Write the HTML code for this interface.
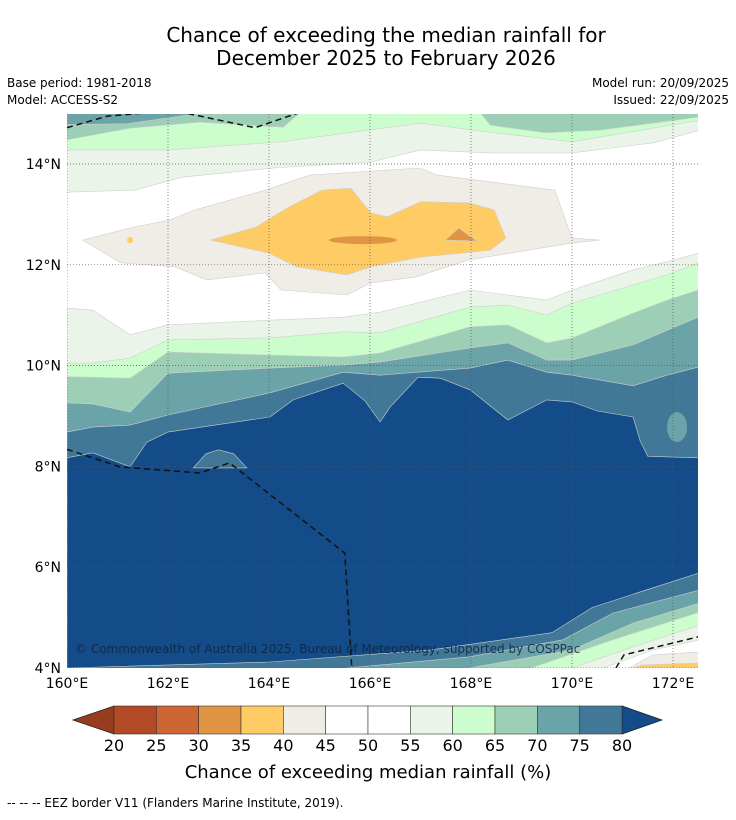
<!DOCTYPE html>
<html><head><meta charset="utf-8"><style>
html,body{margin:0;padding:0;background:#fff;}
body{width:736px;height:816px;overflow:hidden;font-family:"DejaVu Sans","Liberation Sans",sans-serif;}
</style></head><body>
<svg id="s" width="736" height="816" viewBox="0 0 736 816" xmlns="http://www.w3.org/2000/svg" font-family="DejaVu Sans, Liberation Sans, sans-serif">
<text x="386" y="42" text-anchor="middle" font-size="20">Chance of exceeding the median rainfall for</text>
<text x="386" y="65" text-anchor="middle" font-size="20">December 2025 to February 2026</text>
<text x="7" y="87" font-size="12">Base period: 1981-2018</text>
<text x="7" y="104" font-size="12">Model: ACCESS-S2</text>
<text x="729" y="87" font-size="12" text-anchor="end">Model run: 20/09/2025</text>
<text x="729" y="104" font-size="12" text-anchor="end">Issued: 22/09/2025</text>
<defs><clipPath id="mc"><rect x="67" y="114" width="631" height="554"/></clipPath></defs>
<g id="map" clip-path="url(#mc)"></g>
<g id="axes"></g>
<g id="cbar"></g>
<text x="368" y="778" text-anchor="middle" font-size="18">Chance of exceeding median rainfall (%)</text>
<text x="7" y="807" font-size="12">--  --  -- EEZ border V11 (Flanders Marine Institute, 2019).</text>
</svg>
<script>
const lonTicks=[160,162,164,166,168,170,172];
const latTicks=[4,6,8,10,12,14];
const cbLevels=[20,25,30,35,40,45,50,55,60,65,70,75,80];
const cbColors=["#b34a26","#cc6633","#e09545","#fecb65","#f0ece6","#ffffff","#ffffff","#eaf4e8","#ccfdcc","#9dcfb7","#6aa3a8","#417898"];
const sLons=[160,160.51,161.25,162,164.02,165.47,166.2,167.98,168.73,169.5,170,171.21,171.88,172.5];
const sEaf=[11.14,11.10,10.61,10.81,10.90,10.96,11.06,11.5,11.4,11.3,11.5,11.9,12.06,12.23];
const sCcf=[10.05,10.05,10.15,10.51,10.55,10.67,10.65,11.16,11.2,11.0,11.24,11.6,11.8,12.04];
const s9dc=[9.78,9.77,9.75,10.27,10.21,10.17,10.25,10.77,10.81,10.45,10.55,11.04,11.3,11.5];
const s6aa=[9.26,9.24,9.08,9.85,9.95,10.01,10.07,10.35,10.45,10.11,10.11,10.41,10.7,10.96];
const s417=[8.68,8.78,8.82,9.02,9.46,9.87,9.81,9.95,10.11,9.87,9.81,9.6,9.81,9.97];
const darkLon=[160,160.51,161.25,161.58,162,164.02,164.48,165.47,165.9,166.2,166.4,166.95,167.39,167.98,168.73,169.5,170,170.5,171.21,171.35,171.5,172.5];
const darkLat=[8.17,8.27,7.99,8.48,8.68,8.98,9.32,9.65,9.3,8.88,9.18,9.77,9.75,9.52,8.92,9.32,9.28,9.1,8.98,8.5,8.2,8.17];
const se417Lon=[160,164.02,167.2,169.6,170.4,171.2,172.5], se417Lat=[4.0,4.12,4.36,4.7,5.2,5.46,5.88];
const se6aaLon=[165.54,167.96,169.82,170.81,172.53], se6aaLat=[4.0,4.22,4.56,5.09,5.55];
const se9dcLon=[167.96,170,171.21,172.53], se9dcLat=[4,4.36,4.89,5.29];
const seCcfLon=[169.19,170.81,172.53], seCcfLat=[4,4.56,5.11];
const seEafLon=[170,171.21,172.53], seEafLat=[4,4.42,4.85];
const seWhtLon=[170.63,171.6,172.53], seWhtLat=[4,4.36,4.56];
const seBgeLon=[171.13,171.6,172.53], seBgeLat=[4,4.26,4.32];
const seOrgLon=[171.21,171.37,172.53], seOrgLat=[4,4.06,4.1];
const nEafLon=[160,161.33,162.3,164.08,166.02,167.0,168.38,170,171.62,172.53], nEafLat=[13.44,13.48,13.74,13.92,14.04,14.28,14.22,14.22,14.42,14.67];
const nCcfLon=[160,162,164.24,167,168.38,170,172.53], nCcfLat=[14.28,14.28,14.44,14.81,14.63,14.44,14.87];
const n9dcLon=[160,164.6,164.28,162.63,161.25,160], n9dcLat=[15,15,14.73,14.83,14.71,14.48];
const n6aaLon=[160,162.6,161.2,160], n6aaLat=[15,15,14.8,14.78];
const n9dcRLon=[168.2,168.38,169.47,170.55,172.5,172.5], n9dcRLat=[15,14.77,14.62,14.67,14.93,15];
const beigeLon=[160.31,161.33,162.04,162.53,163.92,164.81,167.0,167.33,169.66,170,170.55,170,167.96,166.91,166.02,165.54,164.24,163.92,162.77,162.14,161.07];
const beigeLat=[12.49,12.75,12.89,13.09,13.48,13.78,13.92,13.78,13.48,12.53,12.49,12.43,12.1,11.76,11.64,11.4,11.5,11.84,11.7,11.96,12.04];
const orangeLon=[162.85,163.74,164.4,165.05,165.62,166.02,166.34,167.0,167.96,168.46,168.69,168.38,167.0,166.02,165.54,164.55,164.0];
const orangeLat=[12.49,12.75,13.15,13.48,13.52,13.03,12.95,13.25,13.23,13.09,12.53,12.29,12.15,11.96,11.8,11.96,12.23];
const triLon=[167.49,167.76,168.12], triLat=[12.49,12.73,12.47];
const blobLon=[162.5,162.75,163.0,163.3,163.56], blobLat=[7.97,8.25,8.33,8.25,7.97];
const eezLon=[160,161.05,162.63,163.22,165.5,165.64], eezLat=[8.34,7.99,7.87,8.07,6.28,4.0];
const eez2Lon=[170.87,171.03,172.5], eez2Lat=[4.0,4.26,4.62];
const eez3Lon=[160,160.8,161.64], eez3Lat=[14.72,14.95,15.02];
const eez4Lon=[162.4,163.72,164.6], eez4Lat=[15.0,14.72,15.02];

const X=lon=>67+(lon-160)*50.5;
const Y=lat=>164+(14-lat)*50.4;
const NS='http://www.w3.org/2000/svg';
const map=document.getElementById('map'), axes=document.getElementById('axes'), cbar=document.getElementById('cbar');
function mk(tag,attrs,parent){const e=document.createElementNS(NS,tag);for(const k in attrs)e.setAttribute(k,attrs[k]);parent.appendChild(e);return e;}
function pts(lons,lats){return lons.map((l,i)=>X(l).toFixed(1)+','+Y(lats[i]).toFixed(1));}
function below(lons,lats,col,name){
  const p=pts(lons,lats);p.push(X(lons[lons.length-1])+',700');p.push(X(lons[0])+',700');
  const e=mk('polygon',{points:p.join(' '),fill:col,stroke:'#cfcfcf','stroke-width':0.6},map);
  
  
}
function belowSE(lons,lats,col,name){
  const p=pts(lons,lats);p.push('720,'+Y(lats[lats.length-1]).toFixed(1));p.push('720,700');p.push(X(lons[0])+',700');
  const e=mk('polygon',{points:p.join(' '),fill:col,stroke:'#cfcfcf','stroke-width':0.6},map);
  
  
}
function above(lons,lats,col,name){
  const p=pts(lons,lats);p.push('720,'+Y(lats[lats.length-1]).toFixed(1));p.push('720,100');p.push('50,100');p.push('50,'+Y(lats[0]).toFixed(1));
  const e=mk('polygon',{points:p.join(' '),fill:col,stroke:'#cfcfcf','stroke-width':0.6},map);
  
  
}
function poly(lons,lats,col,name){
  const e=mk('polygon',{points:pts(lons,lats).join(' '),fill:col,stroke:'#cfcfcf','stroke-width':0.6},map);
  
  
}
mk('rect',{x:60,y:100,width:660,height:600,fill:'#fff'},map);
below(sLons,sEaf,'#eaf4e8','band-55-60-south');
below(sLons,sCcf,'#ccfdcc','band-60-65-south');
below(sLons,s9dc,'#9dcfb7','band-65-70-south');
below(sLons,s6aa,'#6aa3a8','band-70-75-south');
below(sLons,s417,'#417898','band-75-80-south');
below(darkLon,darkLat,'#134c88','band-above-80');
poly(blobLon,blobLat,'#417898','band-75-80-blob');
const te=mk('ellipse',{cx:X(172.08),cy:Y(8.78),rx:10,ry:15,fill:'#6aa3a8'},map);


belowSE(se417Lon,se417Lat,'#417898','se-band-75-80');
belowSE(se6aaLon,se6aaLat,'#6aa3a8','se-band-70-75');
belowSE(se9dcLon,se9dcLat,'#9dcfb7','se-band-65-70');
belowSE(seCcfLon,seCcfLat,'#ccfdcc','se-band-60-65');
belowSE(seEafLon,seEafLat,'#eaf4e8','se-band-55-60');
belowSE(seWhtLon,seWhtLat,'#ffffff','se-band-45-55');
belowSE(seBgeLon,seBgeLat,'#f0ece6','se-band-40-45');
belowSE(seOrgLon,seOrgLat,'#fecb65','se-band-35-40');
above(nEafLon,nEafLat,'#eaf4e8','band-55-60-north');
above(nCcfLon,nCcfLat,'#ccfdcc','band-60-65-north');
poly(n9dcLon,n9dcLat,'#9dcfb7','band-65-70-north-west');
poly(n9dcRLon,n9dcRLat,'#9dcfb7','band-65-70-north-east');
poly(n6aaLon,n6aaLat,'#6aa3a8','band-70-75-north-west');
poly(beigeLon,beigeLat,'#f0ece6','band-40-45-dry');
poly(orangeLon,orangeLat,'#fecb65','band-35-40-dry');
const de=mk('ellipse',{cx:X(165.86),cy:Y(12.49),rx:34,ry:4,fill:'#e09545'},map);


poly(triLon,triLat,'#e09545','band-30-35-east');
mk('circle',{cx:X(161.25),cy:Y(12.49),r:3,fill:'#fecb65'},map);
lonTicks.forEach(l=>{const g=mk('line',{x1:X(l),x2:X(l),y1:114,y2:668,stroke:'#555','stroke-width':0.7,'stroke-dasharray':'1,2'},map);});
latTicks.forEach(l=>{const g=mk('line',{x1:67,x2:698,y1:Y(l),y2:Y(l),stroke:'#555','stroke-width':0.7,'stroke-dasharray':'1,2'},map);});
[[eezLon,eezLat],[eez2Lon,eez2Lat],[eez3Lon,eez3Lat],[eez4Lon,eez4Lat]].forEach(a=>{
  const e=mk('polyline',{points:pts(a[0],a[1]).join(' '),fill:'none',stroke:'#111','stroke-width':1.5,'stroke-dasharray':'6,4'},map);
  
  
});
const ct=mk('text',{x:75,y:653,'font-size':12,fill:'#0e2540','fill-opacity':0.85},map);ct.textContent='© Commonwealth of Australia 2025, Bureau of Meteorology, supported by COSPPac';


lonTicks.forEach(l=>{const t=mk('text',{x:X(l),y:688,'text-anchor':'middle','font-size':14},axes);t.textContent=l+'°E';});
latTicks.forEach(l=>{const t=mk('text',{x:61,y:Y(l)+5,'text-anchor':'end','font-size':14},axes);t.textContent=l+'°N';});
const cx0=114,cw=(622-114)/(cbLevels.length-1);
const la=mk('polygon',{points:'73,720 114,706 114,734',fill:'#973c1f',stroke:'#222','stroke-width':0.8},cbar);

const ra=mk('polygon',{points:'662,720 622,706 622,734',fill:'#134c88',stroke:'#222','stroke-width':0.8},cbar);

cbColors.forEach((c,i)=>{const r=mk('rect',{x:cx0+i*cw,y:706,width:cw,height:28,fill:c,stroke:'#333','stroke-width':0.6},cbar);});
cbLevels.forEach((v,i)=>{const t=mk('text',{x:cx0+i*cw,y:751,'text-anchor':'middle','font-size':16},cbar);t.textContent=v;});
</script>
</body></html>
